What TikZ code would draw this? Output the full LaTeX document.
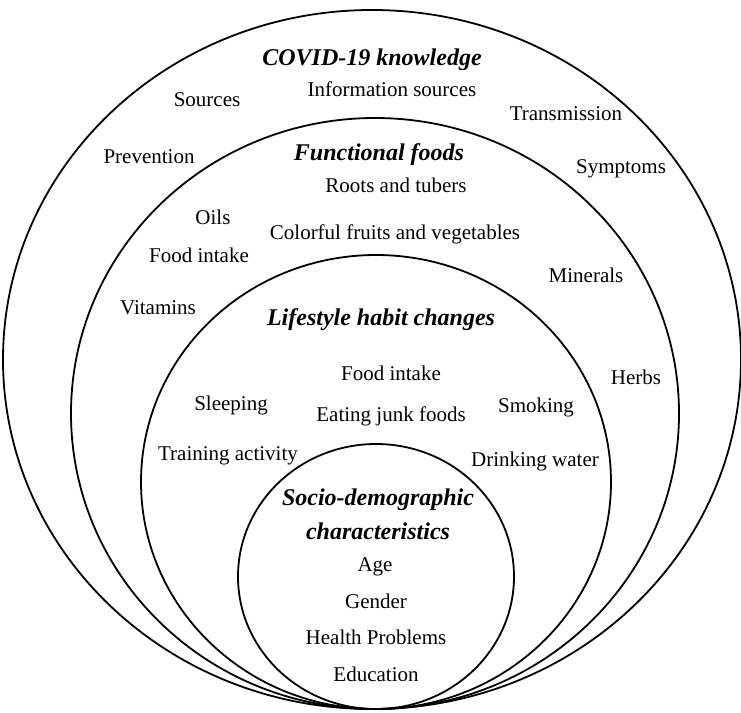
\documentclass[tikz,border=0pt]{standalone}
\usepackage{fontspec}
\setmainfont{Liberation Serif}
\usetikzlibrary{shapes.geometric}
\tikzset{
  ring/.style={draw=black, line width=1.8pt, ellipse, inner sep=0pt, fill=none},
  lbl/.style={anchor=base, inner sep=0pt, font=\fontsize{21}{25}\selectfont},
  ttl/.style={anchor=base, inner sep=0pt, font=\fontsize{24}{28}\selectfont\bfseries\itshape},
}
\begin{document}
\begin{tikzpicture}[x=1pt,y=-1pt]
\useasboundingbox (0,0) rectangle (741,712);
% rings
\node[ring, minimum width=738pt, minimum height=699pt] (outer) at (372,359.5) {};
\node[ring, minimum width=608pt, minimum height=591pt] (second) at (375,413.5) {};
\node[ring, minimum width=470pt, minimum height=454pt] (third) at (376,482) {};
\node[ring, minimum width=276pt, minimum height=265pt] (inner) at (376,576.5) {};
% COVID-19 knowledge
\node[ttl] (covid) at (372,65) {COVID-19 knowledge};
\node[lbl] (info) at (392,96) {Information sources};
\node[lbl] (sources) at (207,106) {Sources};
\node[lbl] (trans) at (566,120) {Transmission};
\node[lbl] (prev) at (149,163) {Prevention};
\node[lbl] (symp) at (621,173) {Symptoms};
% Functional foods
\node[ttl] (func) at (379,160) {Functional foods};
\node[lbl] (roots) at (396,192) {Roots and tubers};
\node[lbl] (oils) at (213,224) {Oils};
\node[lbl] (color) at (395,239) {Colorful fruits and vegetables};
\node[lbl] (food1) at (199,262) {Food intake};
\node[lbl] (min) at (586,282) {Minerals};
\node[lbl] (vit) at (158,314) {Vitamins};
\node[lbl] (herbs) at (636,384) {Herbs};
% Lifestyle habit changes
\node[ttl] (life) at (381,325) {Lifestyle habit changes};
\node[lbl] (food2) at (391,380) {Food intake};
\node[lbl] (sleep) at (231,410) {Sleeping};
\node[lbl] (smoke) at (536,412) {Smoking};
\node[lbl] (junk) at (391,421) {Eating junk foods};
\node[lbl] (train) at (228,460) {Training activity};
\node[lbl] (drink) at (535,466) {Drinking water};
% Socio-demographic characteristics
\node[ttl] (socio1) at (378,505) {Socio-demographic};
\node[ttl] (socio2) at (378,539) {characteristics};
\node[lbl] (age) at (375,571) {Age};
\node[lbl] (gender) at (376,608) {Gender};
\node[lbl] (health) at (376,644) {Health Problems};
\node[lbl] (edu) at (376,681) {Education};
\end{tikzpicture}
\end{document}
